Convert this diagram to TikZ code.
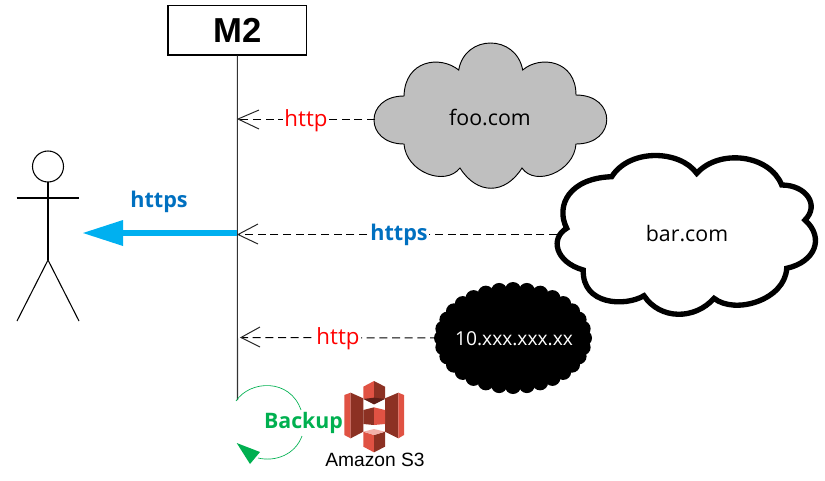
\documentclass[tikz,border=0pt]{standalone}
\usepackage{fontspec}
\setmainfont{Open Sans}
\newfontfamily\arialf{Liberation Sans}
\definecolor{lbl}{HTML}{0070C0}
\definecolor{sky}{HTML}{00B0F0}
\definecolor{grn}{HTML}{00B050}
\definecolor{sa}{HTML}{E05243}
\definecolor{sb}{HTML}{8C3123}
\definecolor{sc}{HTML}{F2B0A9}
\definecolor{sd}{HTML}{5E1F18}
\tikzset{
  msg/.style={draw=black,line width=0.75pt,dash pattern=on 6pt off 3.5pt},
  wing/.style={draw=black!85,line width=0.75pt},
  redlbl/.style={text=red,fill=white,inner sep=1pt,font=\fontsize{16.7}{20}\selectfont},
  bluelbl/.style={text=lbl,inner sep=1pt,font=\fontsize{16.2}{20}\selectfont\bfseries},
  cloudtxt/.style={inner sep=0pt,font=\fontsize{16}{20}\selectfont},
  stick/.style={draw=black,line width=0.8pt}
}
\begin{document}
\begin{tikzpicture}[x=0.75pt,y=-0.75pt]
\useasboundingbox (0,0) rectangle (825,480);
% M2
\node[draw=black,line width=0.8pt,minimum width=104pt,minimum height=37pt,inner sep=0pt,font=\arialf\bfseries\fontsize{26}{30}\selectfont] (m2) at (237.3,30.3) {M2};
\coordinate (lifeend) at (237.5,400);
\draw[draw=black!80,line width=0.8pt] (m2.south) -- (lifeend);
% message anchors
\coordinate (t1) at (238,119);
\coordinate (t2) at (238,234.5);
\coordinate (t3) at (241,337.5);
\coordinate (e1) at (375,119);
\coordinate (e2) at (557,234.5);
\coordinate (e3) at (438,338);
% foo cloud
\draw[fill=black!25,draw=black,line width=0.7pt]
 (458.7,70) .. controls (465,34) and (516,34) .. (522.7,70)
 .. controls (540,55) and (576,60) .. (576,95)
 .. controls (617,95) and (617,144) .. (576,144)
 .. controls (574,172) and (535,187) .. (522,168)
 .. controls (505,195) and (477,195) .. (460,168)
 .. controls (445,187) and (406,172) .. (404,144)
 .. controls (364,144) and (364,96) .. (404,96)
 .. controls (405,60) and (440,55) .. (458.7,70) -- cycle;
\node[cloudtxt] (foo) at (490,117.5) {foo.com};
% bar cloud
\draw[fill=white,draw=black,line width=4pt,line join=miter]
 (611.7,176.7) .. controls (630,148) and (680,150) .. (696.7,173.3)
 .. controls (720,148) and (770,155) .. (781.7,185)
 .. controls (806,185) and (820,205) .. (805,220)
 .. controls (825,238) and (815,262) .. (786.7,268.3)
 .. controls (785,300) and (735,315) .. (714,298.3)
 .. controls (695,320) and (660,320) .. (644,295.7)
 .. controls (625,307) and (582,305) .. (583.3,270)
 .. controls (555,262) and (550,238) .. (566.7,228.3)
 .. controls (555,205) and (570,178) .. (611.7,176.7) -- cycle;
\node[cloudtxt] (bar) at (687,233.5) {bar.com};
% black cloud
\fill[black] (513,338) ellipse (72 and 49);
\foreach \a in {0,11.25,...,349}{
  \fill[black] ({513+71*cos(\a)},{338+48*sin(\a)}) circle (8);
}
\node[cloudtxt,text=white,font=\fontsize{14.4}{18}\selectfont] (ip) at (514,338.5) {10.xxx.xxx.xx};
% dashed messages
\draw[msg] (e1) -- (t1);
\draw[msg] (e2) -- (t2);
\draw[msg] (e3) -- (t3);
\draw[wing] (259,110) -- (t1) -- (259,129);
\draw[wing] (258,224) -- (t2) -- (258,244);
\draw[wing] (260,327) -- (t3) -- (260,347);
\node[redlbl] (l1) at (306,121) {http};
\node[bluelbl,fill=white] (l2) at (399,235) {https};
\node[redlbl] (l3) at (338,339) {http};
% blue arrow
\coordinate (a0) at (237,233);
\coordinate (a1) at (123,233);
\draw[sky,line width=5pt] (a0) -- (a1);
\fill[sky] (123,220) -- (83,233) -- (123,246) -- cycle;
\node[bluelbl] (l4) at (159,202) {https};
% person
\draw[stick] (48,166.5) circle (15.5);
\draw[stick] (48,182) -- (48,260);
\draw[stick] (16.5,198) -- (79,198);
\draw[stick] (17,321) -- (48,260) -- (79,321);
% backup
\draw[grn,line width=0.5pt] (236,401) .. controls (250,380) and (290,378) .. (301,410);
\draw[grn,line width=0.5pt] (302,436) .. controls (295,455) and (275,462) .. (258,458);
\fill[grn] (236.7,443) -- (260,452) -- (250,464) -- cycle;
\node[inner sep=0pt,text=grn,font=\fontsize{16}{20}\selectfont\bfseries] (bk) at (303.5,423) {Backup};
% S3
\begin{scope}[shift={(335,375)},x=0.25pt,y=-0.25pt]
\fill[sa] (28,60) -- (47,53) -- (47,190) -- (28,180) -- cycle;
\fill[sb] (47,53) -- (85,70) -- (85,170) -- (47,190) -- cycle;
\fill[sb] (150,70) -- (190,53) -- (190,190) -- (150,170) -- cycle;
\fill[sa] (190,53) -- (207,60) -- (207,180) -- (190,190) -- cycle;
\fill[sa] (85,35) -- (117,18) -- (117,88) -- (85,70) -- cycle;
\fill[sb] (117,18) -- (150,35) -- (150,70) -- (117,88) -- cycle;
\fill[sd] (85,72) -- (117,68) -- (150,72) -- (117,88) -- cycle;
\fill[sb] (85,105) -- (117,97) -- (117,150) -- (85,147) -- cycle;
\fill[sa] (117,97) -- (150,105) -- (150,147) -- (117,150) -- cycle;
\fill[sa] (85,170) -- (117,180) -- (117,232) -- (85,215) -- cycle;
\fill[sb] (117,180) -- (150,170) -- (150,215) -- (117,232) -- cycle;
\fill[sc] (85,170) -- (117,162) -- (150,170) -- (117,180) -- cycle;
\end{scope}
\node[inner sep=0pt,font=\arialf\fontsize{14.4}{17}\selectfont] (s3) at (375,460) {Amazon S3};
\end{tikzpicture}
\end{document}
